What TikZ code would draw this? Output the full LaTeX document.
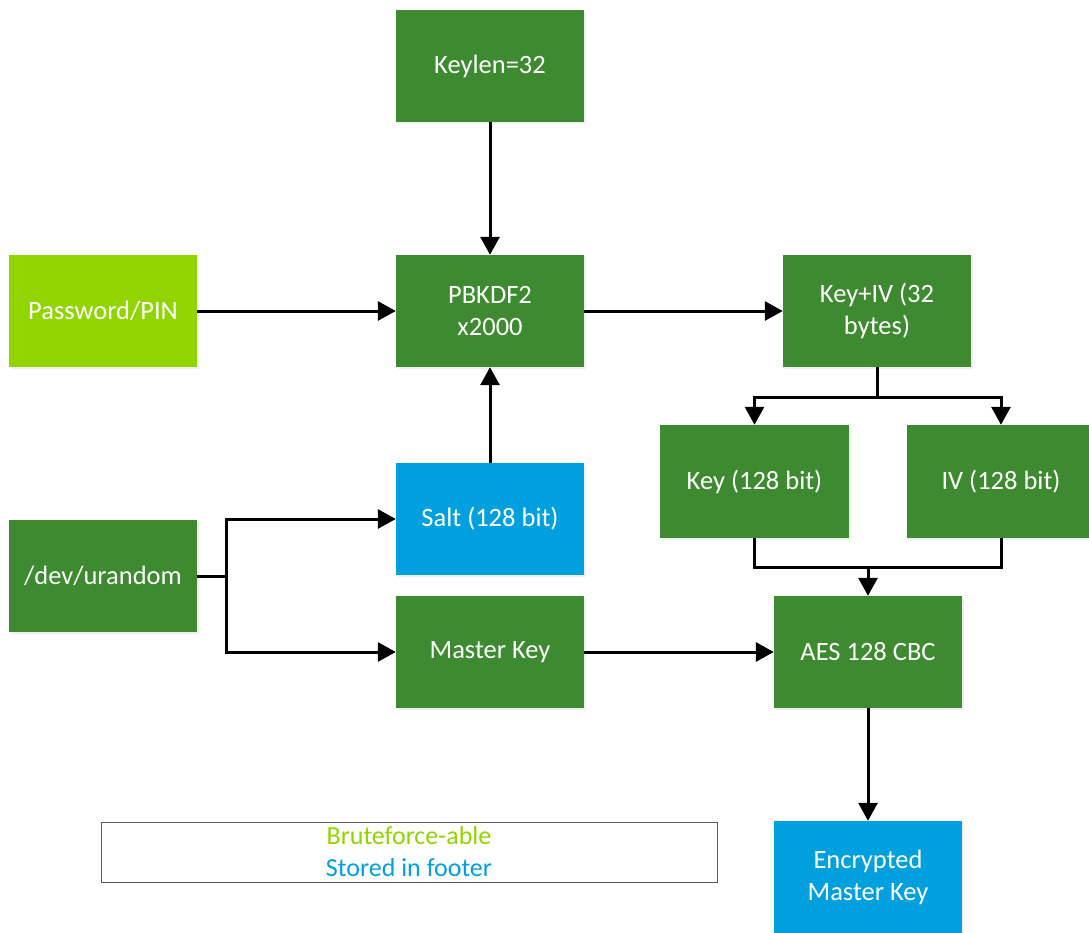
\documentclass[tikz,border=0pt]{standalone}
\usepackage{fontspec}
\setmainfont{Carlito}
\usetikzlibrary{arrows.meta,shadows}
\definecolor{dgreen}{HTML}{3D8A30}
\definecolor{lgreen}{HTML}{92D400}
\definecolor{sblue}{HTML}{00A0DF}
\tikzset{
  box/.style={draw=none, text=white, align=center, inner sep=0pt,
    font=\fontsize{26.5}{32}\selectfont,
    drop shadow={opacity=0.12, shadow xshift=1.5pt, shadow yshift=-1.5pt}},
  gbox/.style={box, fill=dgreen},
  lbox/.style={box, fill=lgreen},
  bbox/.style={box, fill=sblue},
  conn/.style={line width=3pt, -{Triangle[length=18pt,width=19pt]}},
  plain/.style={line width=3pt},
}
\begin{document}
\begin{tikzpicture}[x=1pt,y=-1pt]
\useasboundingbox (0,0) rectangle (1089,933);
\fill[white] (0,0) rectangle (1089,933);
\node[gbox, minimum width=188pt, minimum height=112pt] (keylen) at (490,66) {Keylen=32};
\node[gbox, minimum width=188pt, minimum height=112pt] (pbkdf) at (490,311) {PBKDF2\\x2000};
\node[lbox, minimum width=188pt, minimum height=112pt] (pwd) at (103,311) {Password/PIN};
\node[gbox, minimum width=188pt, minimum height=112pt] (keyiv) at (877,311) {Key+IV (32\\bytes)};
\node[gbox, minimum width=189pt, minimum height=113pt] (key) at (754.5,481.5) {Key (128 bit)};
\node[gbox, minimum width=189pt, minimum height=113pt] (iv) at (1001,481.5) {IV (128 bit)};
\node[bbox, minimum width=188pt, minimum height=112pt] (salt) at (490,519) {Salt (128 bit)};
\node[gbox, minimum width=188pt, minimum height=112pt] (urand) at (103,576) {/dev/urandom};
\node[gbox, minimum width=188pt, minimum height=112pt] (master) at (490,652) {Master Key};
\node[gbox, minimum width=188pt, minimum height=112pt] (aes) at (868,652) {AES 128 CBC};
\node[bbox, minimum width=188pt, minimum height=112pt] (enc) at (868,877) {Encrypted\\Master Key};
\node[draw=black!65, line width=0.8pt, minimum width=616pt, minimum height=60pt, inner sep=0pt,
  align=center, font=\fontsize{26}{32}\selectfont] (legend) at (409,852)
  {\textcolor{lgreen}{Bruteforce-able}\\\textcolor{sblue}{Stored in footer}};
\coordinate (ujunc) at (226,576);
\coordinate (kjunc) at (877,397);
\coordinate (ajunc) at (868,567);
\draw[conn] (keylen.south) -- (pbkdf.north);
\draw[conn] (pwd.east) -- (pbkdf.west);
\draw[conn] (salt.north) -- (pbkdf.south);
\draw[conn] (pbkdf.east) -- (keyiv.west);
\draw[plain] (keyiv.south) -- (kjunc);
\draw[conn] (kjunc) -| (key.north);
\draw[conn] (kjunc) -| (iv.north);
\draw[plain] (key.south) |- (ajunc);
\draw[plain] (iv.south) |- (ajunc);
\draw[conn] (ajunc) -- (aes.north);
\draw[plain] (urand.east) -- (ujunc);
\draw[conn] (ujunc) |- (salt.west);
\draw[conn] (ujunc) |- (master.west);
\draw[conn] (master.east) -- (aes.west);
\draw[conn] (aes.south) -- (enc.north);
\end{tikzpicture}
\end{document}
